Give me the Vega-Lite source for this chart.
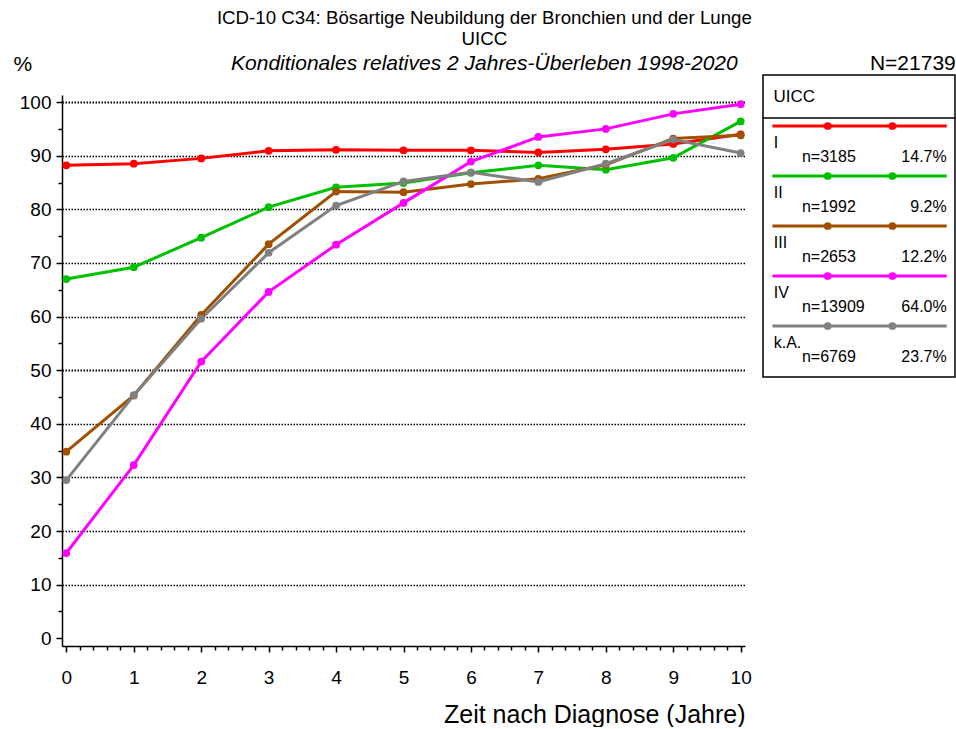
{
  "$schema": "https://vega.github.io/schema/vega-lite/v6.json",
  "background": "white",
  "padding": {"left": 13, "top": 9, "right": 0, "bottom": 0},
  "config": {
    "font": "Liberation Sans",
    "view": {"stroke": null},
    "text": {"color": "black"}
  },
  "title": {
    "text": ["ICD-10 C34: Bösartige Neubildung der Bronchien und der Lunge", "UICC"],
    "subtitle": "Konditionales relatives 2 Jahres-Überleben 1998-2020",
    "fontSize": 18.7,
    "fontWeight": "normal",
    "lineHeight": 21,
    "color": "black",
    "subtitleFontSize": 21,
    "subtitleFontStyle": "italic",
    "subtitleColor": "black",
    "subtitlePadding": 4,
    "anchor": "middle",
    "offset": -21
  },
  "datasets": {
    "surv": [
      {"stage": "I", "year": 0, "value": 88.2}, {"stage": "I", "year": 1, "value": 88.5}, {"stage": "I", "year": 2, "value": 89.5}, {"stage": "I", "year": 3, "value": 90.9}, {"stage": "I", "year": 4, "value": 91.1}, {"stage": "I", "year": 5, "value": 91.0}, {"stage": "I", "year": 6, "value": 91.0}, {"stage": "I", "year": 7, "value": 90.6}, {"stage": "I", "year": 8, "value": 91.2}, {"stage": "I", "year": 9, "value": 92.2}, {"stage": "I", "year": 10, "value": 94.0},
      {"stage": "II", "year": 0, "value": 67.0}, {"stage": "II", "year": 1, "value": 69.2}, {"stage": "II", "year": 2, "value": 74.7}, {"stage": "II", "year": 3, "value": 80.4}, {"stage": "II", "year": 4, "value": 84.1}, {"stage": "II", "year": 5, "value": 84.9}, {"stage": "II", "year": 6, "value": 86.8}, {"stage": "II", "year": 7, "value": 88.2}, {"stage": "II", "year": 8, "value": 87.4}, {"stage": "II", "year": 9, "value": 89.6}, {"stage": "II", "year": 10, "value": 96.4},
      {"stage": "III", "year": 0, "value": 34.8}, {"stage": "III", "year": 1, "value": 45.3}, {"stage": "III", "year": 2, "value": 60.3}, {"stage": "III", "year": 3, "value": 73.5}, {"stage": "III", "year": 4, "value": 83.3}, {"stage": "III", "year": 5, "value": 83.2}, {"stage": "III", "year": 6, "value": 84.7}, {"stage": "III", "year": 7, "value": 85.7}, {"stage": "III", "year": 8, "value": 88.3}, {"stage": "III", "year": 9, "value": 93.2}, {"stage": "III", "year": 10, "value": 93.8},
      {"stage": "IV", "year": 0, "value": 15.9}, {"stage": "IV", "year": 1, "value": 32.3}, {"stage": "IV", "year": 2, "value": 51.6}, {"stage": "IV", "year": 3, "value": 64.6}, {"stage": "IV", "year": 4, "value": 73.4}, {"stage": "IV", "year": 5, "value": 81.2}, {"stage": "IV", "year": 6, "value": 88.9}, {"stage": "IV", "year": 7, "value": 93.5}, {"stage": "IV", "year": 8, "value": 95.0}, {"stage": "IV", "year": 9, "value": 97.8}, {"stage": "IV", "year": 10, "value": 99.6},
      {"stage": "k.A.", "year": 0, "value": 29.5}, {"stage": "k.A.", "year": 1, "value": 45.3}, {"stage": "k.A.", "year": 2, "value": 59.6}, {"stage": "k.A.", "year": 3, "value": 71.9}, {"stage": "k.A.", "year": 4, "value": 80.7}, {"stage": "k.A.", "year": 5, "value": 85.2}, {"stage": "k.A.", "year": 6, "value": 86.9}, {"stage": "k.A.", "year": 7, "value": 85.1}, {"stage": "k.A.", "year": 8, "value": 88.5}, {"stage": "k.A.", "year": 9, "value": 93.0}, {"stage": "k.A.", "year": 10, "value": 90.5}
    ],
    "leg": [
      {"stage": "I", "pos": 1, "n": "n=3185", "pct": "14.7%"},
      {"stage": "II", "pos": 2, "n": "n=1992", "pct": "9.2%"},
      {"stage": "III", "pos": 3, "n": "n=2653", "pct": "12.2%"},
      {"stage": "IV", "pos": 4, "n": "n=13909", "pct": "64.0%"},
      {"stage": "k.A.", "pos": 5, "n": "n=6769", "pct": "23.7%"}
    ],
    "head": [{"label": "UICC"}]
  },
  "spacing": 10,
  "hconcat": [
    {
      "width": 683,
      "height": 551,
      "data": {"name": "surv"},
      "layer": [
        {
          "mark": {"type": "line", "strokeWidth": 3},
          "encoding": {
            "x": {"field": "year", "type": "quantitative",
              "scale": {"domain": [-0.064, 10.064], "nice": false, "zero": false},
              "axis": {"orient": "bottom", "values": [0,1,2,3,4,5,6,7,8,9,10], "title": "Zeit nach Diagnose (Jahre)",
                "titleFontSize": 25, "titleFontWeight": "normal", "titleColor": "black", "titleAnchor": "end", "titleAlign": "right", "titlePadding": 15,
                "labelFontSize": 19, "labelColor": "black", "labelPadding": 16, "labelFlush": false,
                "tickSize": 6, "tickWidth": 1.5, "tickColor": "black", "domainColor": "black", "domainWidth": 1.5, "grid": false}},
            "y": {"field": "value", "type": "quantitative",
              "scale": {"domain": [-1.44, 101.32], "nice": false, "zero": false},
              "axis": {"orient": "left", "values": [0,10,20,30,40,50,60,70,80,90,100], "title": "%",
                "titleAngle": 0, "titleX": -49, "titleY": -25, "titleAlign": "left", "titleBaseline": "alphabetic",
                "titleFontSize": 21, "titleFontWeight": "normal", "titleColor": "black",
                "labelFontSize": 19, "labelColor": "black", "labelPadding": 5,
                "tickSize": 6, "tickWidth": 1.5, "tickColor": "black", "domainColor": "black", "domainWidth": 1.5,
                "grid": true, "gridColor": "black", "gridDash": [1.5, 1.5],
                "gridWidth": {"condition": {"test": "datum.value == 50 || datum.value == 100", "value": 2}, "value": 1.3},
                "gridOpacity": {"condition": {"test": "datum.value == 0", "value": 0}, "value": 1}}},
            "color": {"field": "stage", "type": "nominal",
              "scale": {"domain": ["I", "II", "III", "IV", "k.A."], "range": ["#ff0000", "#00c000", "#a05000", "#ff00ff", "#808080"]},
              "legend": null}
          }
        },
        {
          "mark": {"type": "point", "filled": true, "size": 60, "opacity": 1},
          "encoding": {
            "x": {"field": "year", "type": "quantitative",
              "scale": {"domain": [-0.064, 10.064], "nice": false, "zero": false},
              "axis": {"orient": "bottom", "values": [0.2,0.4,0.6,0.8,1.2,1.4,1.6,1.8,2.2,2.4,2.6,2.8,3.2,3.4,3.6,3.8,4.2,4.4,4.6,4.8,5.2,5.4,5.6,5.8,6.2,6.4,6.6,6.8,7.2,7.4,7.6,7.8,8.2,8.4,8.6,8.8,9.2,9.4,9.6,9.8],
                "labels": false, "domain": false, "grid": false, "title": null, "tickSize": 4, "tickWidth": 1.5, "tickColor": "black"}},
            "y": {"field": "value", "type": "quantitative",
              "scale": {"domain": [-1.44, 101.32], "nice": false, "zero": false},
              "axis": {"orient": "left", "values": [5,15,25,35,45,55,65,75,85,95],
                "labels": false, "domain": false, "grid": false, "title": null, "tickSize": 4, "tickWidth": 1.5, "tickColor": "black"}},
            "color": {"field": "stage", "type": "nominal",
              "scale": {"domain": ["I", "II", "III", "IV", "k.A."], "range": ["#ff0000", "#00c000", "#a05000", "#ff00ff", "#808080"]},
              "legend": null}
          }
        }
      ],
      "resolve": {"axis": {"x": "independent", "y": "independent"}}
    },
    {
      "width": 192,
      "height": 282,
      "title": {"text": "N=21739", "anchor": "end", "fontSize": 21, "fontWeight": "normal", "color": "black", "offset": 0},
      "layer": [
        {
          "data": {"name": "head"},
          "mark": {"type": "rect", "fillOpacity": 0, "stroke": "black", "strokeWidth": 1.5},
          "encoding": {
            "x": {"datum": 0, "type": "quantitative", "scale": {"domain": [0, 1], "nice": false, "zero": false}, "axis": null},
            "x2": {"datum": 1},
            "y": {"datum": -0.02, "type": "quantitative", "scale": {"domain": [0.38, 6.02], "reverse": true, "nice": false, "zero": false}, "axis": null},
            "y2": {"datum": 6.02}
          }
        },
        {
          "data": {"name": "head"},
          "mark": {"type": "text", "align": "left", "baseline": "middle", "fontSize": 17},
          "encoding": {
            "x": {"datum": 0.055, "type": "quantitative"},
            "y": {"datum": 0.42, "type": "quantitative"},
            "text": {"field": "label"}
          }
        },
        {
          "data": {"name": "head"},
          "mark": {"type": "rule", "strokeWidth": 1.5, "color": "black"},
          "encoding": {
            "x": {"datum": 0, "type": "quantitative"},
            "x2": {"datum": 1},
            "y": {"datum": 0.84, "type": "quantitative"}
          }
        },
        {
          "data": {"name": "leg"},
          "mark": {"type": "rule", "strokeWidth": 3},
          "encoding": {
            "x": {"datum": 0.049, "type": "quantitative"},
            "x2": {"datum": 0.957},
            "y": {"field": "pos", "type": "quantitative"},
            "color": {"field": "stage", "type": "nominal",
              "scale": {"domain": ["I", "II", "III", "IV", "k.A."], "range": ["#ff0000", "#00c000", "#a05000", "#ff00ff", "#808080"]},
              "legend": null}
          }
        },
        {
          "data": {"name": "leg"},
          "mark": {"type": "point", "filled": true, "size": 60, "opacity": 1},
          "encoding": {
            "x": {"datum": 0.337, "type": "quantitative"},
            "y": {"field": "pos", "type": "quantitative"},
            "color": {"field": "stage", "type": "nominal", "legend": null}
          }
        },
        {
          "data": {"name": "leg"},
          "mark": {"type": "point", "filled": true, "size": 60, "opacity": 1},
          "encoding": {
            "x": {"datum": 0.674, "type": "quantitative"},
            "y": {"field": "pos", "type": "quantitative"},
            "color": {"field": "stage", "type": "nominal", "legend": null}
          }
        },
        {
          "data": {"name": "leg"},
          "mark": {"type": "text", "align": "left", "baseline": "middle", "fontSize": 16, "dy": 17},
          "encoding": {
            "x": {"datum": 0.056, "type": "quantitative"},
            "y": {"field": "pos", "type": "quantitative"},
            "text": {"field": "stage"}
          }
        },
        {
          "data": {"name": "leg"},
          "mark": {"type": "text", "align": "left", "baseline": "middle", "fontSize": 16, "dy": 31},
          "encoding": {
            "x": {"datum": 0.203, "type": "quantitative"},
            "y": {"field": "pos", "type": "quantitative"},
            "text": {"field": "n"}
          }
        },
        {
          "data": {"name": "leg"},
          "mark": {"type": "text", "align": "right", "baseline": "middle", "fontSize": 16, "dy": 31},
          "encoding": {
            "x": {"datum": 0.957, "type": "quantitative"},
            "y": {"field": "pos", "type": "quantitative"},
            "text": {"field": "pct"}
          }
        }
      ]
    }
  ]
}
